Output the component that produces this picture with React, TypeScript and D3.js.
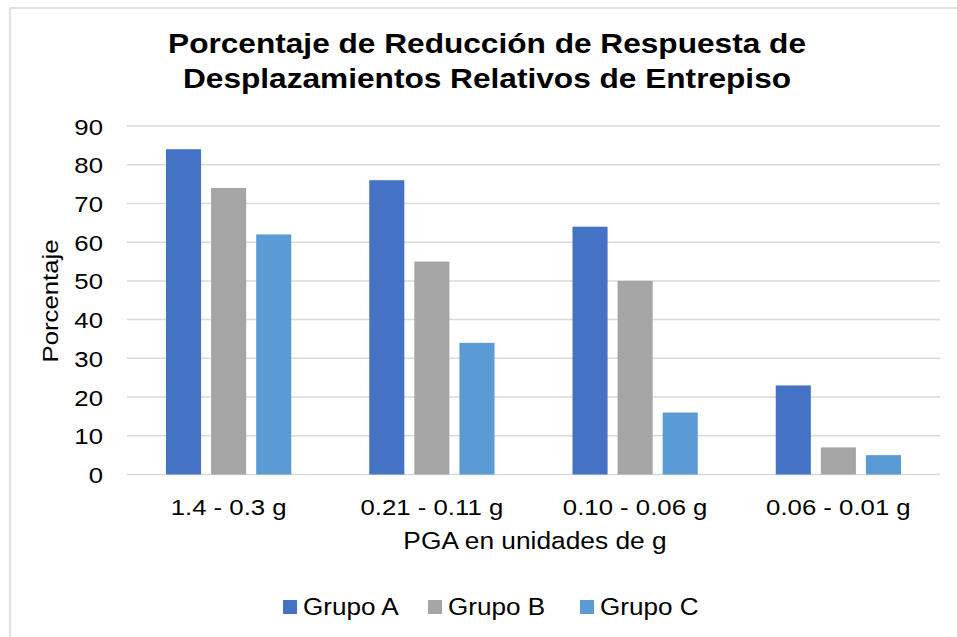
import React from "react";
import * as d3 from "d3";

const categories = ["1.4 - 0.3 g", "0.21 - 0.11 g", "0.10 - 0.06 g", "0.06 - 0.01 g"];
const seriesNames = ["Grupo A", "Grupo B", "Grupo C"];
const grupoA = [84, 76, 64, 23];
const grupoB = [74, 55, 50, 7];
const grupoC = [62, 34, 16, 5];
const yTicks = [0, 10, 20, 30, 40, 50, 60, 70, 80, 90];
const colors = ["#4472C4", "#A5A5A5", "#5B9BD5"];
const titleLines = ["Porcentaje de Reducción de Respuesta de", "Desplazamientos Relativos de Entrepiso"];

const W = 957;
const H = 637;
const SX = 1.12;
const FONT = "'Liberation Sans', Arial, sans-serif";

function T({ x, y, children, size, anchor = "start", weight = "normal", rotate = 0, sx = SX }: any) {
  return (
    <g transform={`translate(${x},${y}) rotate(${rotate}) scale(${sx},1)`}>
      <text fontFamily={FONT} fontSize={size} fontWeight={weight} textAnchor={anchor} fill="#000">
        {children}
      </text>
    </g>
  );
}

export default function App() {
  const plotL = 127, plotR = 940, plotT = 126, plotB = 474.5;
  const x = d3.scaleBand<string>().domain(categories).range([plotL, plotR]).paddingInner(0).paddingOuter(0);
  const bw = x.bandwidth();
  const inner = d3.scaleBand<string>().domain(seriesNames).range([39, bw - 39]).paddingInner(0.222).paddingOuter(0);
  const y = d3.scaleLinear().domain([0, 90]).range([plotB, plotT]);
  const series = [grupoA, grupoB, grupoC];

  const legendX = [283, 428, 580];

  return (
    <svg width={W} height={H} style={{ position: "absolute", left: 0, top: 0, background: "#fff" }}>
      <rect x={0} y={0} width={W} height={H} fill="#fff" />
      <rect x={10} y={8} width={W + 20} height={H + 20} fill="#fff" stroke="#D9D9D9" strokeWidth={1.5} />
      {titleLines.map((t, i) => (
        <T key={t} x={487} y={53 + i * 35} size={28} weight="bold" anchor="middle" sx={1.13}>{t}</T>
      ))}
      {yTicks.map((v) => (
        <g key={v}>
          <line x1={plotL} x2={plotR} y1={y(v)} y2={y(v)} stroke="#D9D9D9" strokeWidth={1.5} />
          <T x={103} y={y(v) + 8.5} size={23} anchor="end">{v}</T>
        </g>
      ))}
      {categories.map((c, ci) => (
        <g key={c}>
          {series.map((s, si) => (
            <rect
              key={si}
              x={(x(c) as number) + (inner(seriesNames[si]) as number)}
              y={y(s[ci])}
              width={inner.bandwidth()}
              height={y(0) - y(s[ci])}
              fill={colors[si]}
            />
          ))}
          <T x={(x(c) as number) + bw / 2} y={515} size={23} anchor="middle">{c}</T>
        </g>
      ))}
      <T x={535} y={549} size={23.5} anchor="middle">PGA en unidades de g</T>
      <T x={58} y={301} size={23} anchor="middle" rotate={-90}>Porcentaje</T>
      {seriesNames.map((n, i) => (
        <g key={n}>
          <rect x={legendX[i]} y={600} width={14} height={14} fill={colors[i]} />
          <T x={legendX[i] + 20} y={615} size={23.3}>{n}</T>
        </g>
      ))}
    </svg>
  );
}
